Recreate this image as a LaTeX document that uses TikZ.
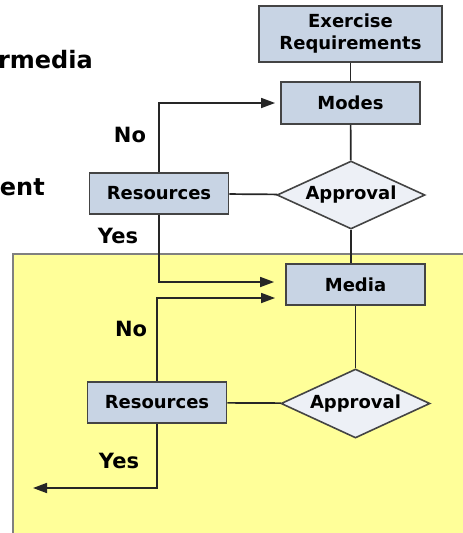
\documentclass[tikz,border=0pt]{standalone}
\usepackage{fontspec}
\setmainfont{DejaVu Sans}
\usepackage{xcolor}
\usetikzlibrary{arrows.meta, positioning, calc, shapes.geometric}
\definecolor{boxfill}{HTML}{C8D4E4}
\definecolor{diafill}{HTML}{EDF0F6}
\definecolor{padfill}{HTML}{FFFF99}
\definecolor{edgegray}{HTML}{444444}

\begin{document}
\begin{tikzpicture}[x=1pt, y=-1pt,
    box/.style={rectangle, draw=edgegray, line width=1.8pt, fill=boxfill, inner sep=0pt,
        minimum width=139pt, minimum height=41pt, align=center,
        font=\bfseries\fontsize{18}{22}\selectfont},
    decision/.style={diamond, aspect=2.2, draw=edgegray, line width=1.6pt, fill=diafill, inner sep=0pt,
        minimum width=148pt, minimum height=68pt, font=\bfseries\fontsize{18}{22}\selectfont},
    lbl/.style={font=\bfseries\fontsize{21}{24}\selectfont},
    link/.style={line width=1.7pt, draw=black!85},
    go/.style={link, -{Triangle[length=14pt, width=10pt]}}]
    \useasboundingbox (0,0) rectangle (463,533);
    \clip (0,0) rectangle (463,533);
    % yellow pad at the bottom
    \fill[padfill] (13,254) rectangle (480,550);
    \draw[gray, line width=1.6pt] (13,550) -- (13,254) -- (480,254);
    % cut-off title text
    \node[anchor=base east, inner sep=0pt, font=\bfseries\fontsize{24}{28}\selectfont] (ttlA) at (93,68) {rmedia};
    \node[anchor=base east, inner sep=0pt, font=\bfseries\fontsize{24}{28}\selectfont] (ttlB) at (45,195) {ent};

    \node[box, minimum width=183pt, minimum height=56pt] (exreq) at (350.5,34) {Exercise\\Requirements};
    \node[box, minimum height=42pt] (modes) at (350.5,103) {Modes};
    \node[decision] (appr1) at (351,195) {Approval};
    \node[box] (res1) at (159,193.5) {Resources};
    \node[box] (media) at (355.5,284.5) {Media};
    \node[decision, minimum width=149pt, minimum height=69pt] (appr2) at (355.5,403.5) {Approval};
    \node[box] (res2) at (157,402.5) {Resources};
    \coordinate (out) at (33,488);

    \node[lbl] (no1) at (130,135) {No};
    \node[lbl] (yes1) at (118,236) {Yes};
    \node[lbl] (no2) at (131,329) {No};
    \node[lbl] (yes2) at (119,461) {Yes};

    \draw[link] (exreq) -- (modes);
    \draw[link] (modes) -- (appr1);
    \draw[link] (appr1) -- (res1);
    \draw[link] (appr1.south) -- (appr1.south |- media.north);
    \draw[link] (media.south -| appr2.north) -- (appr2.north);
    \draw[link] (appr2) -- (res2);
    \draw[go, shorten >=5pt] (res1.north) |- (modes.west);
    \draw[go, shorten >=11pt] (res1.south) |- ($(media.west)+(0,-2.5)$);
    \draw[go, shorten >=10pt] (res2.north) |- ($(media.west)+(0,13.5)$);
    \draw[go] (res2.south) |- (out);
\end{tikzpicture}
\end{document}
